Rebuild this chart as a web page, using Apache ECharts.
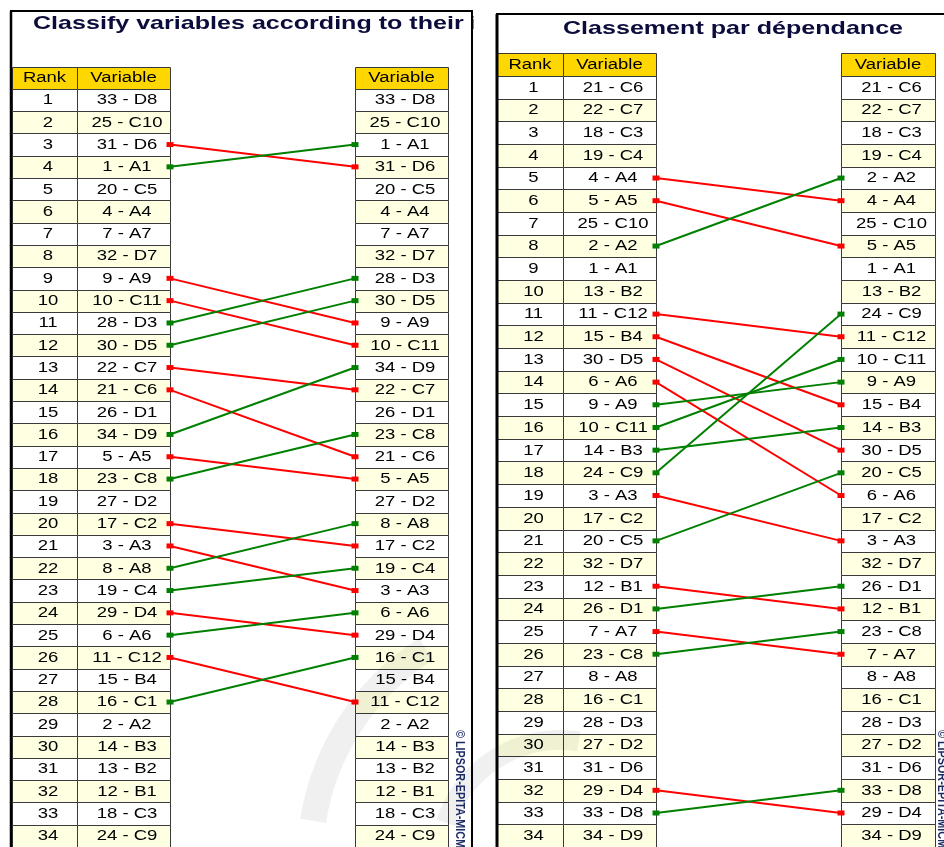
<!DOCTYPE html>
<html><head><meta charset="utf-8">
<script src="https://cdn.jsdelivr.net/npm/echarts/dist/echarts.min.js"></script>
<style>html,body{margin:0;padding:0;background:#fff}#c{width:944px;height:847px}</style>
</head><body><div id="c"></div>
<script>
// ---------- DATA ----------
var influenceTitle = 'Classify variables according to their influence';
var dependenceTitle = 'Classement par dépendance';
var headerRank = 'Rank';
var headerVariable = 'Variable';
var watermarkText = '© LIPSOR-EPITA-MICMAC';
var rankLabels = ['1','2','3','4','5','6','7','8','9','10','11','12','13','14','15','16','17','18','19','20','21','22','23','24','25','26','27','28','29','30','31','32','33','34'];

// Influence: direct ranking (left column) and indirect ranking (right column)
var influenceLeft = ['33 - D8','25 - C10','31 - D6','1 - A1','20 - C5','4 - A4','7 - A7','32 - D7','9 - A9','10 - C11','28 - D3','30 - D5','22 - C7','21 - C6','26 - D1','34 - D9','5 - A5','23 - C8','27 - D2','17 - C2','3 - A3','8 - A8','19 - C4','29 - D4','6 - A6','11 - C12','15 - B4','16 - C1','2 - A2','14 - B3','13 - B2','12 - B1','18 - C3','24 - C9'];
var influenceRight = ['33 - D8','25 - C10','1 - A1','31 - D6','20 - C5','4 - A4','7 - A7','32 - D7','28 - D3','30 - D5','9 - A9','10 - C11','34 - D9','22 - C7','26 - D1','23 - C8','21 - C6','5 - A5','27 - D2','8 - A8','17 - C2','19 - C4','3 - A3','6 - A6','29 - D4','16 - C1','15 - B4','11 - C12','2 - A2','14 - B3','13 - B2','12 - B1','18 - C3','24 - C9'];

// Dependence: direct ranking (left column) and indirect ranking (right column)
var dependenceLeft = ['21 - C6','22 - C7','18 - C3','19 - C4','4 - A4','5 - A5','25 - C10','2 - A2','1 - A1','13 - B2','11 - C12','15 - B4','30 - D5','6 - A6','9 - A9','10 - C11','14 - B3','24 - C9','3 - A3','17 - C2','20 - C5','32 - D7','12 - B1','26 - D1','7 - A7','23 - C8','8 - A8','16 - C1','28 - D3','27 - D2','31 - D6','29 - D4','33 - D8','34 - D9'];
var dependenceRight = ['21 - C6','22 - C7','18 - C3','19 - C4','2 - A2','4 - A4','25 - C10','5 - A5','1 - A1','13 - B2','24 - C9','11 - C12','10 - C11','9 - A9','15 - B4','14 - B3','30 - D5','20 - C5','6 - A6','17 - C2','3 - A3','32 - D7','26 - D1','12 - B1','23 - C8','7 - A7','8 - A8','16 - C1','28 - D3','27 - D2','31 - D6','33 - D8','29 - D4','34 - D9'];

// ---------- STYLE / LAYOUT ----------
var FONT = '"Liberation Sans", Arial, sans-serif';
var SX = 1.32;
var RED = '#ff0000', GREEN = '#008000';
var HEADER_FILL = '#ffd700', EVEN_FILL = '#ffffe1', ODD_FILL = '#ffffff', BORDER = '#3a3a3a';

var panels = [
  {left:12, top:66.5, width:436, rowH:22.47, cols:[[0,65],[65,158],[343,436]], lineX:[158,343], L:influenceLeft, R:influenceRight},
  {left:497, top:53.3, width:438, rowH:22.88, cols:[[0,66],[66,159],[344,438]], lineX:[159,344], L:dependenceLeft, R:dependenceRight}
];

function buildCells(p){
  var cells = [{col:0,row:0,text:headerRank},{col:1,row:0,text:headerVariable},{col:2,row:0,text:headerVariable}];
  for (var i=0;i<p.L.length;i++){
    cells.push({col:0,row:i+1,text:rankLabels[i]});
    cells.push({col:1,row:i+1,text:p.L[i]});
    cells.push({col:2,row:i+1,text:p.R[i]});
  }
  return cells;
}
function buildMoves(p){
  var m = [];
  for (var i=0;i<p.L.length;i++){
    var j = p.R.indexOf(p.L[i]);
    if (j !== i) m.push([i+1, j+1]);
  }
  return m;
}

var grids=[], xAxes=[], yAxes=[], series=[];
panels.forEach(function(p, gi){
  grids.push({left:p.left, top:p.top, width:p.width, height:35*p.rowH, containLabel:false});
  xAxes.push({gridIndex:gi, type:'value', min:0, max:p.width, show:false});
  yAxes.push({gridIndex:gi, type:'value', min:-0.5, max:34.5, inverse:true, show:false});
  var cells = buildCells(p);
  series.push({
    type:'custom', coordinateSystem:'cartesian2d', xAxisIndex:gi, yAxisIndex:gi, clip:false, silent:true, z:2,
    data: cells.map(function(c){return [c.col, c.row];}),
    renderItem: function(params, api){
      var c = cells[params.dataIndex], span = p.cols[c.col];
      var a = api.coord([span[0], c.row-0.5]), b = api.coord([span[1], c.row+0.5]);
      var x0 = Math.round(a[0])+0.5, y0 = Math.round(a[1])+0.5, x1 = Math.round(b[0])+0.5, y1 = Math.round(b[1])+0.5;
      var fill = c.row===0 ? HEADER_FILL : (c.row%2===0 ? EVEN_FILL : ODD_FILL);
      var cx = (a[0]+b[0])/2 + (c.row===0 ? 0 : 3.5), cy = (a[1]+b[1])/2 + 0.5;
      return {type:'group', children:[
        {type:'rect', shape:{x:x0,y:y0,width:x1-x0,height:y1-y0}, style:{fill:fill, stroke:BORDER, lineWidth:1}},
        {type:'text', x:cx, y:cy, scaleX:SX, style:{text:c.text, x:0, y:0, align:'center', verticalAlign:'middle', textAlign:'center', textVerticalAlign:'middle', font:'14px '+FONT, fill:'#000'}}
      ]};
    }
  });
  var moves = buildMoves(p);
  series.push({
    type:'custom', coordinateSystem:'cartesian2d', xAxisIndex:gi, yAxisIndex:gi, clip:false, silent:true, z:5,
    data: moves,
    renderItem: function(params, api){
      var from = api.value(0), to = api.value(1);
      var a = api.coord([p.lineX[0], from]), b = api.coord([p.lineX[1], to]);
      var col = to > from ? RED : GREEN;
      return {type:'group', children:[
        {type:'line', shape:{x1:a[0],y1:a[1],x2:b[0],y2:b[1]}, style:{stroke:col, lineWidth:2}},
        {type:'rect', shape:{x:a[0]-3.5,y:a[1]-2.5,width:7,height:5}, style:{fill:col}},
        {type:'rect', shape:{x:b[0]-3.5,y:b[1]-2.5,width:7,height:5}, style:{fill:col}}
      ]};
    }
  });
});

var graphics = [
  // left title (covered beyond frame)
  {type:'text', x:33, y:23.5, scaleX:SX, z:1, style:{text:influenceTitle, x:0, y:0, align:'left', verticalAlign:'middle', textAlign:'left', textVerticalAlign:'middle', font:'bold 19px '+FONT, fill:'#0c0c3c'}},
  {type:'rect', z:2, shape:{x:473.5, y:0, width:471, height:52}, style:{fill:'#fff'}},
  // faint background logo
  {type:'arc', z:20, silent:true, shape:{cx:560, cy:860, r:250, startAngle:Math.PI*1.05, endAngle:Math.PI*1.32}, style:{stroke:'#000', lineWidth:26, opacity:0.06, fill:null}},
  {type:'arc', z:20, silent:true, shape:{cx:560, cy:860, r:120, startAngle:Math.PI*1.1, endAngle:Math.PI*1.55}, style:{stroke:'#000', lineWidth:20, opacity:0.06, fill:null}},
  // frames
  {type:'line', z:30, shape:{x1:11, y1:11, x2:11, y2:847}, style:{stroke:'#000', lineWidth:2.5}},
  {type:'line', z:30, shape:{x1:10, y1:11, x2:473, y2:11}, style:{stroke:'#000', lineWidth:2}},
  {type:'line', z:30, shape:{x1:472, y1:11, x2:472, y2:847}, style:{stroke:'#000', lineWidth:2}},
  {type:'line', z:30, shape:{x1:497, y1:14, x2:497, y2:847}, style:{stroke:'#000', lineWidth:3}},
  {type:'line', z:30, shape:{x1:496, y1:14, x2:944, y2:14}, style:{stroke:'#000', lineWidth:2}},
  // right title
  {type:'text', x:733, y:28.5, scaleX:SX, z:30, style:{text:dependenceTitle, x:0, y:0, align:'center', verticalAlign:'middle', textAlign:'center', textVerticalAlign:'middle', font:'bold 19px '+FONT, fill:'#0c0c3c'}},
  // vertical copyright texts
  {type:'text', x:459, y:730, rotation:-Math.PI/2, scaleX:0.9, z:30, style:{text:watermarkText, x:0, y:0, align:'left', verticalAlign:'middle', textAlign:'left', textVerticalAlign:'middle', font:'bold 12px '+FONT, fill:'#1c2a66'}},
  {type:'text', x:941, y:730, rotation:-Math.PI/2, scaleX:0.9, z:30, style:{text:watermarkText, x:0, y:0, align:'left', verticalAlign:'middle', textAlign:'left', textVerticalAlign:'middle', font:'bold 12px '+FONT, fill:'#1c2a66'}}
];

var chart = echarts.init(document.getElementById('c'), null, {renderer:'canvas'});
chart.setOption({
  animation:false,
  backgroundColor:'#ffffff',
  grid:grids, xAxis:xAxes, yAxis:yAxes, series:series,
  graphic:{elements:graphics}
});
</script>
</body></html>
